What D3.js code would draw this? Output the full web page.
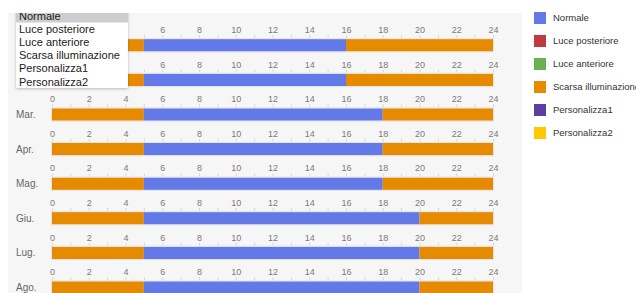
<!DOCTYPE html>
<html><head><meta charset="utf-8">
<script src="https://cdn.jsdelivr.net/npm/d3@7"></script>
<style>
html,body{margin:0;padding:0;background:#fff;overflow:hidden;}
svg{display:block;font-family:"Liberation Sans",Arial,sans-serif;}
</style></head>
<body>
<svg id="c" width="636" height="293"></svg>
<script>
// ---- data ----
const months = ["Gen.", "Feb.", "Mar.", "Apr.", "Mag.", "Giu.", "Lug.", "Ago."];
const normalStart = [5, 5, 5, 5, 5, 5, 5, 5];
const normalEnd = [16, 16, 18, 18, 18, 20, 20, 20];
const modes = ["Normale", "Luce posteriore", "Luce anteriore", "Scarsa illuminazione", "Personalizza1", "Personalizza2"];
const modeColors = ["#6479e8", "#c0393f", "#6ab150", "#e68a00", "#5b3fa3", "#ffc800"];
const tickValues = d3.range(0, 25, 2);
const hourDomain = [0, 24];

// ---- layout ----
const svg = d3.select("#c");
const panel = {x: 8, y: 13, w: 514, h: 280};
svg.append("rect").attr("x", panel.x).attr("y", panel.y).attr("width", panel.w).attr("height", panel.h).attr("fill", "#f6f6f6");

// open dropdown box (covers the top-left of the chart)
const ddBox = {x: 16, y: 3, w: 112, h: 85};
const underDropdown = (px, py) => px >= ddBox.x - 4 && px <= ddBox.x + ddBox.w + 4 && py >= 13 && py <= ddBox.y + ddBox.h;

const x = d3.scaleLinear().domain(hourDomain).range([52, 493]);
const y = d3.scaleBand().domain(months).range([39.1 - 11.3, 39.1 - 11.3 + 34.6 * months.length]).paddingInner(0);
const barTop = m => y(m) + 11.3;
const barH = 12.4;

const color = d3.scaleOrdinal().domain(modes).range(modeColors);

const rows = months.map((m, i) => ({
  month: m,
  segs: [
    {mode: "Scarsa illuminazione", a: 0, b: normalStart[i]},
    {mode: "Normale", a: normalStart[i], b: normalEnd[i]},
    {mode: "Scarsa illuminazione", a: normalEnd[i], b: 24}
  ]
}));

const g = svg.append("g");
rows.forEach(r => {
  const top = barTop(r.month);
  const visTicks = tickValues.filter(v => !underDropdown(x(v), top - 10));
  const ax = d3.axisTop(x).tickValues(visTicks).tickSize(0).tickPadding(0);
  const ag = g.append("g").attr("transform", `translate(0,${top - 8})`).call(ax);
  ag.select(".domain").remove();
  ag.selectAll("text").attr("fill", "#7a7a7a").attr("font-size", 9).attr("font-family", "Liberation Sans, Arial, sans-serif").attr("dy", "0.2em");
  g.append("g").selectAll("line").data(d3.range(0, 25)).join("line")
    .attr("x1", d => x(d) + 0.5).attr("x2", d => x(d) + 0.5)
    .attr("y1", top - 4).attr("y2", top - 1)
    .attr("stroke", "#d6d6d6").attr("stroke-width", 1);
  g.append("g").selectAll("rect").data(r.segs).join("rect")
    .attr("x", d => x(d.a)).attr("width", d => x(d.b) - x(d.a))
    .attr("y", top).attr("height", barH)
    .attr("fill", d => color(d.mode));
  g.append("rect").attr("x", x(0) - 0.5).attr("y", top - 0.5).attr("width", x(24) - x(0) + 1).attr("height", barH + 1)
    .attr("fill", "none").attr("stroke", "#e4e4e4").attr("stroke-width", 1);
  if (!underDropdown(20, top + barH / 2)) {
    g.append("text").attr("x", 16).attr("y", top + barH / 2).attr("dy", "0.35em")
      .attr("font-size", 10).attr("fill", "#666").text(r.month);
  }
});

// legend
const lg = svg.append("g");
modes.forEach((m, i) => {
  const cy = 18 + i * 23;
  lg.append("rect").attr("x", 534).attr("y", cy - 6).attr("width", 12).attr("height", 12).attr("fill", color(m));
  lg.append("text").attr("x", 553).attr("y", cy).attr("dy", "0.35em").attr("font-size", 9.5).attr("fill", "#333").text(m);
});

// dropdown (open select)
const clip = svg.append("clipPath").attr("id", "clipTop");
clip.append("rect").attr("x", 0).attr("y", 13).attr("width", 636).attr("height", 280);
const dd = svg.append("g").attr("clip-path", "url(#clipTop)");
const defs = svg.append("defs");
const f = defs.append("filter").attr("id", "sh").attr("x", "-20%").attr("y", "-20%").attr("width", "140%").attr("height", "140%");
f.append("feDropShadow").attr("dx", 0).attr("dy", 1).attr("stdDeviation", 1.5).attr("flood-color", "#000").attr("flood-opacity", 0.25);
dd.append("rect").attr("x", ddBox.x).attr("y", ddBox.y).attr("width", ddBox.w).attr("height", ddBox.h).attr("fill", "#fff").attr("filter", "url(#sh)");
dd.append("rect").attr("x", ddBox.x).attr("y", ddBox.y).attr("width", ddBox.w).attr("height", 19.5).attr("fill", "#cdcdcd");
modes.forEach((m, i) => {
  dd.append("text").attr("x", 19).attr("y", 16.2 + i * 13.1).attr("dy", "0.35em")
    .attr("font-size", 11).attr("fill", "#1a1a1a").text(m);
});
</script>
</body></html>
